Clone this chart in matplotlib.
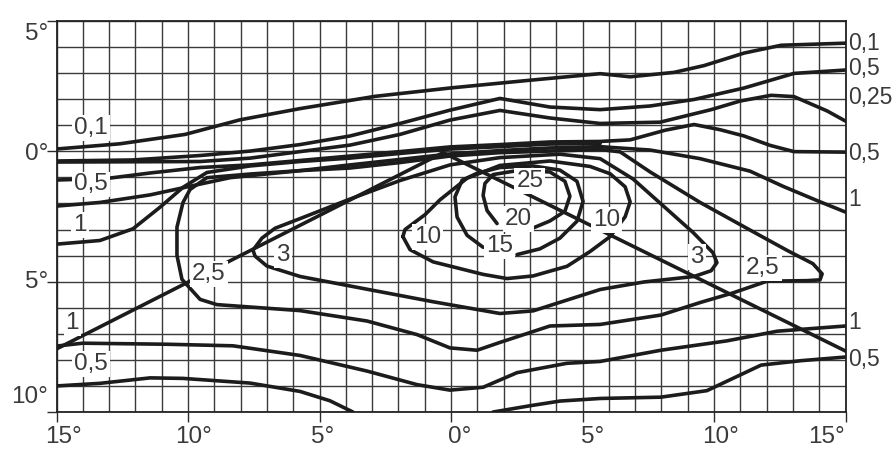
import matplotlib
matplotlib.use("Agg")
import matplotlib.pyplot as plt
import numpy as np

# isolines, horizontal / vertical angle in degrees
iso_a_h = [-15.0, -12.59, -10.11, -8.02, -5.74, -2.89, -0.04, 2.81, 5.67, 6.81, 8.48, 9.62, 11.14, 12.55, 15.0]
iso_a_v = [0.09, 0.29, 0.65, 1.21, 1.64, 2.11, 2.43, 2.71, 2.98, 2.86, 3.03, 3.29, 3.77, 4.07, 4.15]

iso_b_h = [-15.0, -12.09, -9.54, -7.64, -5.74, -3.84, -1.94, -0.04, 1.86, 3.76, 5.67, 7.57, 9.24, 11.14, 13.04, 15.0]
iso_b_v = [-0.37, -0.33, -0.16, 0.01, 0.26, 0.59, 1.07, 1.58, 2.03, 1.70, 1.60, 1.74, 1.99, 2.43, 2.99, 3.12]

iso_c_h = [-15.0, -12.09, -9.54, -7.64, -5.74, -3.84, -1.94, -0.04, 1.86, 3.76, 5.67, 7.95, 9.89, 10.99, 12.17, 13.04, 14.30, 15.0]
iso_c_v = [-0.41, -0.40, -0.39, -0.26, -0.01, 0.24, 0.65, 1.20, 1.57, 1.28, 1.07, 1.12, 1.60, 1.93, 2.15, 2.10, 1.55, 1.16]

iso_d_h = [-15.0, -13.08, -11.44, -9.54, -7.64, -5.74, -3.84, -1.94, -0.04, 1.86, 3.76, 5.67, 6.81, 8.14, 9.24, 10.23, 11.14, 12.13, 13.04, 15.0]
iso_d_v = [-1.10, -1.04, -0.83, -0.62, -0.52, -0.35, -0.18, -0.01, 0.17, 0.26, 0.36, 0.38, 0.44, 0.81, 1.03, 0.83, 0.59, 0.23, -0.01, -0.03]

iso_e_h = [-15.0, -13.35, -11.44, -10.11, -8.40, -5.74, -3.84, -1.94, -0.04, 1.86, 3.76, 5.67, 7.57, 9.47, 11.37, 12.62, 13.92, 15.0]
iso_e_v = [-2.10, -1.96, -1.67, -1.38, -1.01, -0.74, -0.52, -0.31, -0.10, 0.03, 0.13, 0.18, 0.05, -0.28, -0.76, -1.34, -1.89, -2.33]

iso_f_h = [-15.0, -13.35, -12.09, -11.06, -10.19, -9.28, -7.64, -5.74, -3.84, -1.94, -0.04, 1.86, 3.76, 5.67]
iso_f_v = [-3.56, -3.42, -2.97, -2.14, -1.38, -0.81, -0.56, -0.39, -0.26, -0.08, 0.09, 0.18, 0.28, 0.30]

# closed 2,5 loop
iso_g_h = [5.67, 6.43, 7.57, 9.47, 11.37, 12.78, 13.76, 14.11, 14.03, 13.54, 12.02, 10.72, 9.47, 7.98, 5.67,
           3.76, 1.86, 0.99, -0.04, -1.29, -3.19, -5.74, -8.90, -9.54, -10.23, -10.42, -10.42, -10.19, -9.92,
           -9.28, -7.64, -5.74, -3.84, -1.94, -0.04, 1.86, 3.76, 5.67]
iso_g_v = [0.07, -0.02, -0.79, -1.96, -3.02, -3.80, -4.31, -4.70, -4.93, -4.96, -4.98, -5.43, -5.80, -6.28, -6.64,
           -6.70, -7.33, -7.63, -7.54, -7.03, -6.51, -6.11, -5.88, -5.68, -4.91, -3.99, -2.91, -1.96, -1.46,
           -1.01, -0.87, -0.74, -0.64, -0.43, -0.18, -0.05, 0.01, 0.07]

# closed 3 loop
iso_h_h = [-7.53, -7.19, -6.69, -5.74, -3.84, -1.94, -0.04, 1.86, 4.14, 5.67, 6.92, 8.21, 9.20, 9.96, 10.11,
           9.89, 9.24, 7.34, 5.67, 3.12, 1.86, -0.68, -3.19, -5.74, -7.00, -7.45, -7.53]
iso_h_v = [-3.79, -3.33, -2.95, -2.58, -1.83, -1.12, -0.52, -0.24, -0.11, -0.28, -1.06, -2.22, -3.11, -3.89, -4.27,
           -4.58, -4.80, -5.01, -5.30, -6.12, -6.22, -5.77, -5.29, -4.80, -4.40, -4.02, -3.79]

# closed 10 loop
iso_i_h = [-1.83, -1.56, -0.68, 1.22, 2.13, 3.12, 4.41, 5.29, 6.05, 6.62, 6.81, 6.62, 6.05, 5.29, 3.76,
           1.86, 0.61, -0.42, -0.99, -1.75, -1.83]
iso_i_v = [-3.27, -3.77, -4.24, -4.72, -4.88, -4.78, -4.41, -3.84, -3.27, -2.51, -1.94, -1.36, -0.86, -0.58, -0.37,
           -0.54, -1.03, -1.86, -2.43, -3.00, -3.27]

# 15, open at its label
iso_j_h = [1.22, 0.61, 0.23, 0.15, 0.42, 0.99, 1.86, 3.12, 4.14, 4.79, 5.02, 4.79, 4.14, 3.38, 2.51]
iso_j_v = [-3.68, -3.22, -2.52, -1.75, -1.11, -0.84, -0.62, -0.56, -0.72, -1.15, -1.92, -2.68, -3.33, -3.74, -3.96]

# 20, open at its label
iso_k_h = [1.75, 1.37, 1.22, 1.29, 1.60, 2.51, 3.76, 4.33, 4.52, 4.33, 3.76, 3.12]
iso_k_v = [-2.77, -2.27, -1.69, -1.23, -0.89, -0.74, -0.79, -1.15, -1.72, -2.30, -2.67, -2.94]

# lower isolines
iso_m_h = [-15.0, -14.0, -10.80, -8.29, -5.74, -3.19, -1.29, -0.04, 1.22, 2.51, 4.41, 5.67, 7.98, 10.49, 12.40, 13.69, 15.0]
iso_m_v = [-7.47, -7.36, -7.40, -7.46, -7.83, -8.43, -8.95, -9.16, -9.05, -8.49, -8.13, -8.06, -7.63, -7.27, -6.90, -6.80, -6.70]

iso_n_h = [-15.0, -13.35, -11.44, -10.19, -7.64, -5.74, -4.60, -3.73]
iso_n_v = [-9.00, -8.90, -8.69, -8.71, -8.89, -9.21, -9.57, -10.0]

iso_o_h = [1.60, 3.00, 4.14, 5.67, 7.98, 9.73, 10.76, 11.79, 13.31, 15.0]
iso_o_v = [-10.0, -9.76, -9.58, -9.48, -9.43, -9.18, -8.69, -8.20, -8.03, -7.89]

# cut-off lines meeting near the centre
cut_left_h = [-15.0, -0.30]
cut_left_v = [-7.58, -0.05]
cut_right_h = [-0.30, 15.0]
cut_right_v = [-0.05, -7.66]

curves = [
    (iso_a_h, iso_a_v), (iso_b_h, iso_b_v), (iso_c_h, iso_c_v), (iso_d_h, iso_d_v),
    (iso_e_h, iso_e_v), (iso_f_h, iso_f_v), (iso_g_h, iso_g_v), (iso_h_h, iso_h_v),
    (iso_i_h, iso_i_v), (iso_j_h, iso_j_v), (iso_k_h, iso_k_v), (iso_m_h, iso_m_v),
    (iso_n_h, iso_n_v), (iso_o_h, iso_o_v), (cut_left_h, cut_left_v), (cut_right_h, cut_right_v),
]

# value labels inside the field
inner_text = ["0,1", "0,5", "1", "1", "0,5", "2,5", "3", "10", "25", "20", "15", "10", "3", "2,5"]
inner_h = [-13.7, -13.7, -14.1, -14.4, -13.7, -9.2, -6.39, -0.9, 3.0, 2.55, 1.86, 5.93, 9.35, 11.86]
inner_v = [0.88, -1.27, -2.83, -6.59, -8.17, -4.69, -3.99, -3.28, -1.13, -2.58, -3.65, -2.62, -4.07, -4.48]

# value labels right of the field
right_text = ["0,1", "0,5", "0,25", "0,5", "1", "1", "0,5"]
right_v = [4.12, 3.16, 2.08, -0.10, -1.83, -6.55, -7.97]

x_ticks = [-15, -10, -5, 0, 5, 10, 15]
x_labels = ["15°", "10°", "5°", "0°", "5°", "10°", "15°"]
y_ticks = [5, 0, -5, -10]
y_labels = ["5°", "0°", "5°", "10°"]

ink = "#1c1c1c"
txt = "#3a3a3a"
family = ["Liberation Sans", "DejaVu Sans"]

fig = plt.figure(figsize=(8.94, 4.5), dpi=100)
ax = fig.add_axes([0.0632, 0.0844, 0.8826, 0.8689])
ax.set_xlim(-15, 15)
ax.set_ylim(-10, 5)

ax.set_xticks(np.arange(-15, 16, 1), minor=True)
ax.set_yticks(np.arange(-10, 6, 1), minor=True)
ax.set_xticks(x_ticks)
ax.set_yticks(y_ticks)
ax.set_xticklabels([])
ax.set_yticklabels([])
ax.grid(which="both", color="#3a3a3a", linewidth=1.0, zorder=0)
ax.tick_params(which="major", length=7, width=1.0, color="#2a2a2a", direction="out")
ax.tick_params(which="minor", length=0)
ax.tick_params(top=False, right=False)
for s in ax.spines.values():
    s.set_linewidth(1.3)
    s.set_color("#222222")

for h, v in curves:
    ax.plot(h, v, color=ink, linewidth=2.6, solid_joinstyle="round",
            solid_capstyle="round", zorder=3)

box = dict(boxstyle="square,pad=0.08", fc="white", ec="none")
for t, h, v in zip(inner_text, inner_h, inner_v):
    ax.text(h, v, t, fontsize=17.5, family=family, color=txt, ha="center",
            va="center", bbox=box, zorder=5)

for t, v in zip(right_text, right_v):
    ax.text(15.1, v, t, fontsize=16.5, family=family, color=txt, ha="left",
            va="center", clip_on=False)

# axis labels, nudged to sit where the ruled sheet leaves room
x_shift = [5, 4, 2, 6, 7, 5, -14]
for t, h, dx in zip(x_labels, x_ticks, x_shift):
    ax.annotate(t, xy=(h, -10), xytext=(dx, -18), textcoords="offset points",
                fontsize=17.5, family=family, color=txt, ha="center", va="center",
                annotation_clip=False)

y_shift = [-9, -2, 0, 11]
for t, v, dy in zip(y_labels, y_ticks, y_shift):
    ax.annotate(t, xy=(-15, v), xytext=(-6, dy), textcoords="offset points",
                fontsize=17.5, family=family, color=txt, ha="right", va="center",
                annotation_clip=False)

fig.savefig("out.png", dpi=100)
